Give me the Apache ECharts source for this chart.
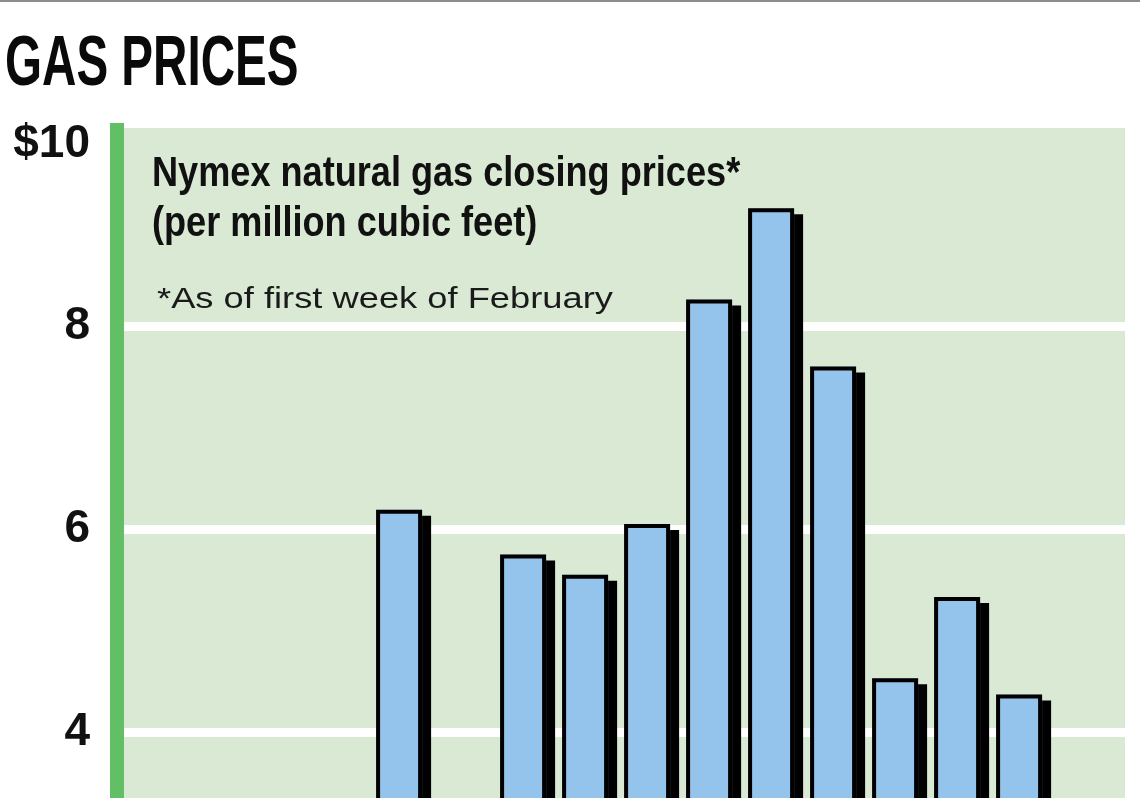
<!DOCTYPE html>
<html>
<head>
<meta charset="utf-8">
<script src="https://cdn.jsdelivr.net/npm/echarts@6/dist/echarts.min.js"></script>
<style>
  html, body { margin: 0; padding: 0; background: #ffffff; }
  #chart { width: 1140px; height: 798px; }
</style>
</head>
<body>
<div id="chart"></div>
<script>
// ---- data ----
var years = [1997, 1998, 1999, 2000, 2001, 2002, 2003, 2004, 2005, 2006, 2007, 2008, 2009, 2010, 2011, 2012];
// null = bar lies below the visible (cropped) part of the chart
var prices = [null, null, null, null, 6.19, null, 5.75, 5.55, 6.05, 8.26, 9.16, 7.60, 4.53, 5.33, 4.37, null];
var yTicks = [0, 2, 4, 6, 8, 10];
var titleText = 'GAS PRICES';
var subtitleLines = ['Nymex natural gas closing prices*', '(per million cubic feet)'];
var footnoteText = '*As of first week of February';

// ---- layout ----
var gridLeft = 117, gridTop = 123, gridWidth = 1008, unitPx = 101.5, slotPx = 62;
var xMin = years[0] - 0.55;
var xMax = xMin + gridWidth / slotPx;
var boldFont = '"Liberation Sans", Arial, sans-serif';

var chart = echarts.init(document.getElementById('chart'), null, { renderer: 'canvas' });

var barData = years.map(function (y, i) { return [y, prices[i]]; });

var option = {
  animation: false,
  backgroundColor: '#ffffff',
  grid: {
    left: gridLeft, top: gridTop, width: gridWidth, height: unitPx * 10,
    outerBoundsMode: 'none', containLabel: false,
    show: true, backgroundColor: '#d9e9d3', borderWidth: 0
  },
  xAxis: {
    type: 'value', min: xMin, max: xMax, show: false
  },
  yAxis: {
    type: 'value', min: yTicks[0], max: yTicks[yTicks.length - 1], interval: 2,
    axisLine: { show: true, lineStyle: { color: '#62bf66', width: 14, cap: 'butt' } },
    axisTick: { show: false },
    splitLine: { show: true, lineStyle: { color: '#ffffff', width: 9 } },
    axisLabel: {
      margin: 27,
      color: '#111111',
      fontFamily: boldFont,
      fontWeight: 'bold',
      fontSize: 46,
      formatter: function (v) { return v === 10 ? '{top|$' + v + '}' : String(v); },
      rich: {
        top: {
          fontFamily: boldFont, fontWeight: 'bold', fontSize: 46,
          color: '#111111', padding: [42, 0, 0, 0]
        }
      }
    }
  },
  series: [{
    type: 'bar',
    name: 'fill',
    data: barData,
    barWidth: 46,
    z: 2,
    itemStyle: {
      color: '#94c4ec',
      borderWidth: 0,
      shadowColor: '#000000',
      shadowBlur: 0,
      shadowOffsetX: 9,
      shadowOffsetY: 6
    }
  }, {
    type: 'bar',
    name: 'outline',
    data: barData,
    barWidth: 46,
    barGap: '-100%',
    z: 3,
    itemStyle: {
      color: 'rgba(0,0,0,0)',
      borderColor: '#000000',
      borderWidth: 4
    }
  }],
  graphic: [
    { type: 'rect', left: 0, top: 0, shape: { width: 1140, height: 2 }, style: { fill: '#8c8c8c' } },
    { type: 'text', x: 5, y: 66, scaleX: 0.68,
      style: { text: titleText, font: 'bold 70px ' + boldFont, fill: '#0a0a0a', verticalAlign: 'middle' } },
    { type: 'text', x: 152, y: 174, scaleX: 0.86,
      style: { text: subtitleLines[0], font: 'bold 42px ' + boldFont, fill: '#111111', verticalAlign: 'middle' } },
    { type: 'text', x: 152, y: 224, scaleX: 0.86,
      style: { text: subtitleLines[1], font: 'bold 42px ' + boldFont, fill: '#111111', verticalAlign: 'middle' } },
    { type: 'text', x: 157, y: 300, scaleX: 1.21,
      style: { text: footnoteText, font: '30px "Liberation Sans", Arial, sans-serif', fill: '#1a1a1a', verticalAlign: 'middle' } }
  ]
};
chart.setOption(option);
</script>
</body>
</html>
